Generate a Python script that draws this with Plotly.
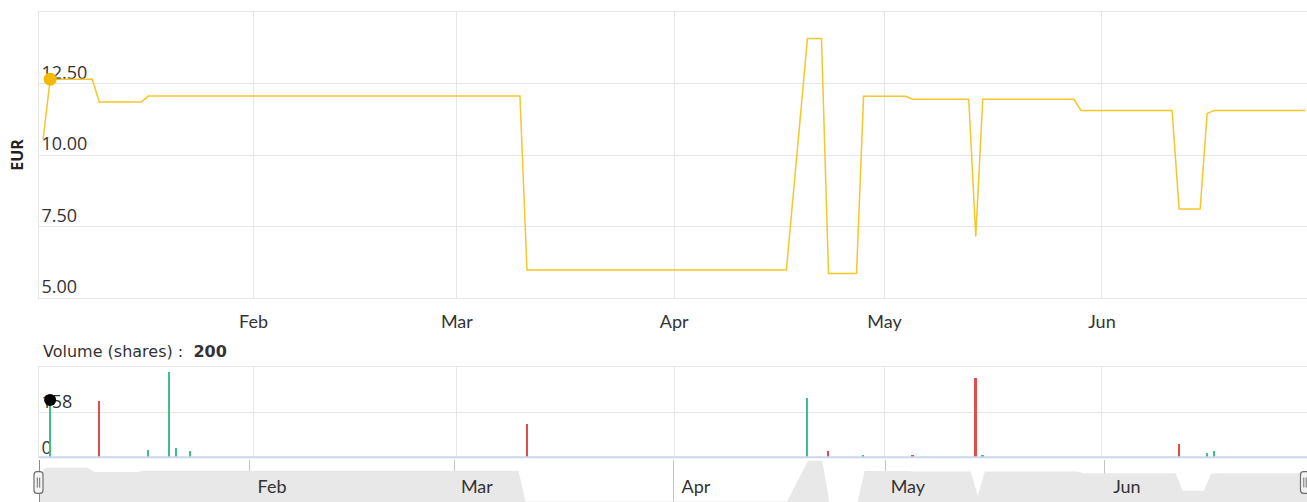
import plotly.graph_objects as go

# ---------------- data ----------------
price_dates = [
    "2024-01-02", "2024-01-03", "2024-01-09", "2024-01-10", "2024-01-16", "2024-01-17",
    "2024-03-10", "2024-03-11", "2024-04-17", "2024-04-20", "2024-04-22", "2024-04-23",
    "2024-04-27", "2024-04-28", "2024-05-04", "2024-05-05", "2024-05-13", "2024-05-14",
    "2024-05-15", "2024-05-28", "2024-05-29", "2024-06-11", "2024-06-12", "2024-06-15",
    "2024-06-16", "2024-06-17", "2024-06-30",
]
price_values = [
    10.55, 12.65, 12.65, 11.85, 11.85, 12.06,
    12.06, 5.98, 5.98, 14.07, 14.07, 5.86,
    5.86, 12.05, 12.05, 11.95, 11.95, 7.15,
    11.95, 11.95, 11.56, 11.56, 8.11, 8.11,
    11.45, 11.56, 11.56,
]

volume_dates = [
    "2024-01-03", "2024-01-10", "2024-01-17", "2024-01-20", "2024-01-21", "2024-01-23",
    "2024-03-11", "2024-04-20", "2024-04-23", "2024-04-28", "2024-05-05", "2024-05-14",
    "2024-05-15", "2024-06-12", "2024-06-16", "2024-06-17",
]
volume_values = [200, 198, 25, 297, 35, 23, 116, 209, 23, 8, 8, 277, 8, 49, 17, 23]
volume_direction = ["up", "down", "up", "up", "up", "up", "down", "up", "down", "up",
                    "down", "down", "up", "down", "up", "up"]

highlight_date = "2024-01-03"
highlight_price = 12.65
highlight_volume = 200

price_ticks = [5.0, 7.5, 10.0, 12.5]
volume_ticks = [0, 158]
price_range = [5, 15]
volume_range = [0, 316]
navigator_yrange = [5.9, 14.2]
main_xrange = ["2024-01-01 09:50", "2024-06-30 05:45"]
nav_xrange = ["2024-01-02 03:20", "2024-06-29 14:24"]

volume_label = "Volume (shares) :"
y_title = "EUR"

# ---------------- styles ----------------
W, H = 1307, 502
ML, MT = 39, 12
PW, PH = W - ML, H - MT

def py(px):  # pixel row -> paper y
    return 1 - (px - MT) / PH

def pxx(px):  # pixel column -> paper x
    return (px - ML) / PW

GREEN = "#3dbe8b"
RED = "#e44b4b"
LINE = "#f6c62a"
GRID = "#e6e6e6"
TEXT = "#333333"

bar_colors = [GREEN if d == "up" else RED for d in volume_direction]

fig = go.Figure()

# navigator area
fig.add_trace(go.Scatter(
    x=price_dates, y=price_values, xaxis="x3", yaxis="y3", mode="lines",
    line=dict(width=0, color="#e8e8e8"), fill="tozeroy", fillcolor="#e8e8e8",
    hoverinfo="skip"))

# price line
fig.add_trace(go.Scatter(
    x=price_dates, y=price_values, mode="lines",
    line=dict(color=LINE, width=1.5), hoverinfo="skip"))
fig.add_trace(go.Scatter(
    x=[highlight_date], y=[highlight_price], mode="markers",
    marker=dict(size=13, color="#f5b800"), hoverinfo="skip"))

# volume
fig.add_trace(go.Bar(
    x=volume_dates, y=volume_values, xaxis="x2", yaxis="y2",
    marker=dict(color=bar_colors, line=dict(width=0)), width=2.2e7,
    hoverinfo="skip"))
fig.add_trace(go.Scatter(
    x=[highlight_date], y=[highlight_volume], xaxis="x2", yaxis="y2", mode="markers",
    marker=dict(size=12, color="black"), hoverinfo="skip"))

price_dom = [py(298), 1]
vol_dom = [py(457.3), py(366.7)]
nav_dom = [0, py(460)]

common_x = dict(type="date", dtick="M1", tick0="2024-01-01", tickformat="%b",
                showgrid=True, gridcolor=GRID, zeroline=False, ticks="",
                fixedrange=True)

fig.update_layout(
    width=W, height=H, autosize=False,
    margin=dict(l=ML, r=0, t=MT, b=0, autoexpand=False),
    plot_bgcolor="white", paper_bgcolor="white", showlegend=False,
    font=dict(family="Lato", color=TEXT, size=17),
    xaxis=dict(domain=[0, 1], range=main_xrange, anchor="y",
               showline=True, linecolor=GRID, mirror=True,
               ticklabelstandoff=7, tickfont=dict(size=18, family="Lato"),
               **common_x),
    yaxis=dict(domain=price_dom, range=price_range, anchor="x",
               tickvals=price_ticks, tickformat=".2f",
               ticklabelposition="inside", ticklabelshift=-11, ticklabelstandoff=3,
               ticklabeloverflow="allow",
               tickfont=dict(size=18, family="Open Sans", color=TEXT),
               showgrid=True, gridcolor=GRID, showline=True, linecolor=GRID,
               mirror=True, zeroline=False, ticks="", layer="below traces",
               title=dict(text="<b>" + y_title + "</b>", standoff=13,
                          font=dict(size=16, family="Open Sans", color="#222222")),
               fixedrange=True),
    xaxis2=dict(domain=[0, 1], range=main_xrange, anchor="y2", matches="x",
                showticklabels=False, showline=True, linecolor=GRID, mirror=True,
                **common_x),
    yaxis2=dict(domain=vol_dom, range=volume_range, anchor="x2",
                tickvals=volume_ticks, ticktext=[str(v) for v in volume_ticks],
                tickmode="array", ticklabelposition="inside",
                ticklabelshift=-10, ticklabelstandoff=3, ticklabeloverflow="allow",
                tickfont=dict(size=18, family="Open Sans", color=TEXT),
                showgrid=True, gridcolor=GRID, showline=True, linecolor=GRID,
                mirror=True, zeroline=False, ticks="", layer="below traces",
                fixedrange=True),
    xaxis3=dict(domain=[0, 1], range=nav_xrange, anchor="y3",
                ticklabelposition="inside", ticklabelshift=22, ticklabelstandoff=2,
                tickfont=dict(size=18, family="Lato", color=TEXT),
                showline=False, **{**common_x, "gridcolor": "#c4c4c4"}),
    yaxis3=dict(domain=nav_dom, range=navigator_yrange, anchor="x3",
                visible=False, fixedrange=True),
    bargap=0,
)

# volume header
fig.add_annotation(
    xref="paper", yref="paper", x=pxx(41), y=py(351), xanchor="left", yanchor="middle",
    text=volume_label + "  <b>" + str(highlight_volume) + "</b>", showarrow=False,
    font=dict(size=16, family="DejaVu Sans", color=TEXT))

shapes = []
# volume x-axis baseline
shapes.append(dict(type="line", xref="x2 domain", yref="y2 domain", x0=0, x1=1, y0=0, y1=0,
                   line=dict(color="#ccd6eb", width=2), layer="above"))
# navigator outline (left edge)
shapes.append(dict(type="line", xref="paper", yref="paper", x0=pxx(39.5), x1=pxx(39.5),
                   y0=0, y1=py(460), line=dict(color="#8a8a8a", width=1)))

def handle(xpx):
    x0, x1, y0, y1, r = -4.5, 4.5, -10.8, 10.8, 3
    rect = (f"M{x0+r},{y0} L{x1-r},{y0} Q{x1},{y0} {x1},{y0+r} L{x1},{y1-r} "
            f"Q{x1},{y1} {x1-r},{y1} L{x0+r},{y1} Q{x0},{y1} {x0},{y1-r} "
            f"L{x0},{y0+r} Q{x0},{y0} {x0+r},{y0} Z")
    base = dict(type="path", xref="paper", yref="paper", xsizemode="pixel",
                ysizemode="pixel", xanchor=pxx(xpx), yanchor=py(482.5))
    return [
        dict(path=rect, fillcolor="#f4f4f4", line=dict(color="#6e6e6e", width=1.2), **base),
        dict(path="M-1.2,-5 L-1.2,5 M1.2,-5 L1.2,5", line=dict(color="#6e6e6e", width=1), **base),
    ]

shapes += handle(38.5)
shapes += handle(1305)
fig.update_layout(shapes=shapes)

fig.write_html("out.html", config={"displayModeBar": False},
               post_script="document.body.style.margin='0';document.body.style.overflow='hidden';")
